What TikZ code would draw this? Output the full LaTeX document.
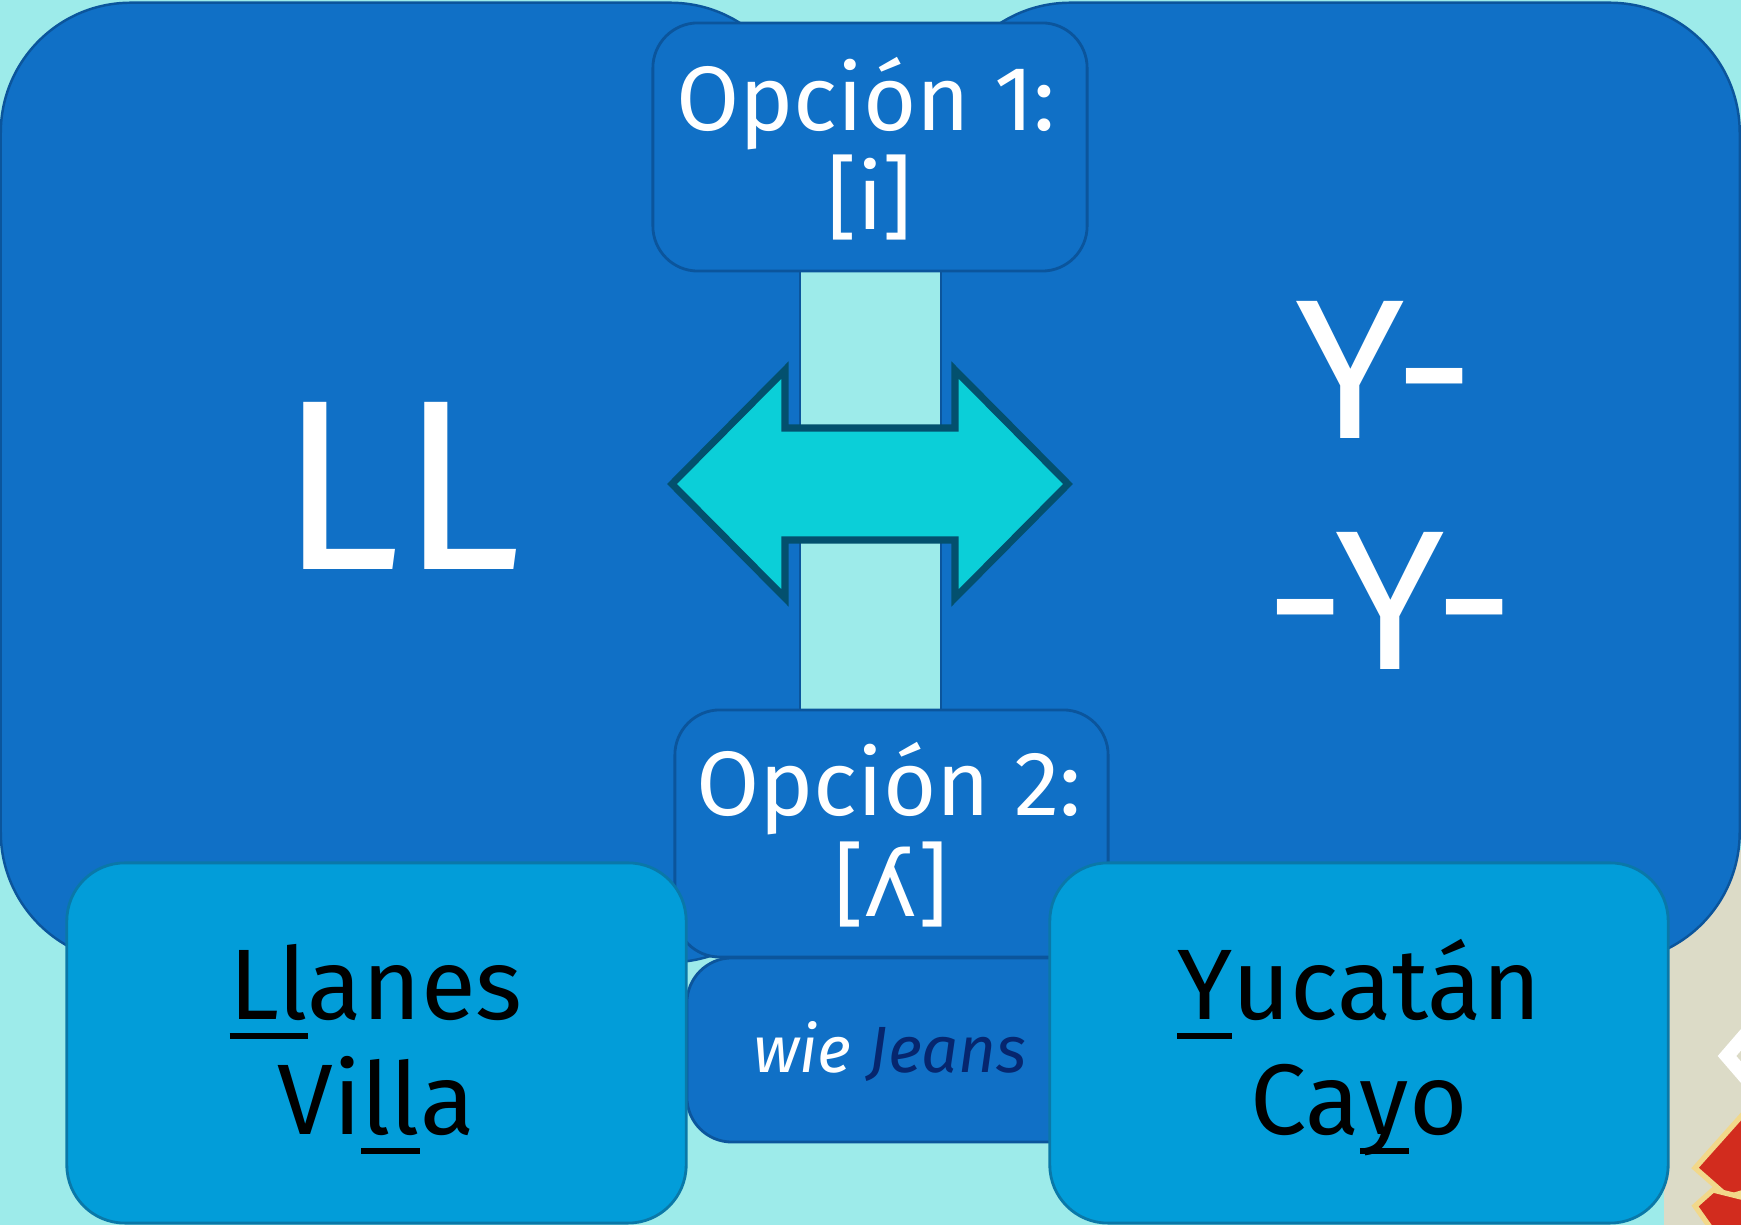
\documentclass[tikz,border=0pt]{standalone}
\usepackage{fontspec}
\setmainfont{Fira Sans}
\newfontfamily\ipafont{DejaVu Sans}
\definecolor{bgcyan}{HTML}{9DEBEA}
\definecolor{midblue}{HTML}{1070C6}
\definecolor{blueedge}{HTML}{0B559C}
\definecolor{lightblue}{HTML}{029DD9}
\definecolor{lightedge}{HTML}{0A78A8}
\definecolor{arrowfill}{HTML}{0BCFD8}
\definecolor{arrowedge}{HTML}{03506E}
\definecolor{navy}{HTML}{06266E}
\definecolor{beige}{HTML}{DCDBC7}
\definecolor{flagred}{HTML}{D22C1E}
\definecolor{flagyellow}{HTML}{F2D88A}
\newcommand\ulbar[1]{\setbox0=\hbox{#1}\rlap{\rule[-5.4pt]{\wd0}{1.7pt}}\box0}
\begin{document}
\begin{tikzpicture}[x=0.01cm,y=-0.01cm,bigbox/.style={draw=blueedge,fill=midblue,line width=0.7pt,rounded corners=1.3cm,inner sep=0pt},optbox/.style={draw=blueedge,fill=midblue,line width=0.8pt,rounded corners=0.45cm,inner sep=0pt},wordbox/.style={draw=lightedge,fill=lightblue,line width=0.8pt,rounded corners=0.58cm,inner sep=0pt},bar/.style={draw=blueedge,fill=bgcyan,line width=0.7pt},dblarrow/.style={draw=arrowedge,fill=arrowfill,line width=2pt},optxt/.style={anchor=base,inner sep=0pt,white,font=\fontsize{26}{28}\selectfont},wtxt/.style={anchor=base,inner sep=0pt,black,font=\fontsize{28.5}{32}\selectfont},ytxt/.style={anchor=base,inner sep=0pt,white,font=\fontsize{56.6}{60}\selectfont}]
\def\bw{7.99cm};
\def\bh{9.59cm};

\useasboundingbox (0,0) rectangle (1741,1225);
\fill[bgcyan] (0,0) rectangle (1741,1225);
\fill[beige] (1664,850) rectangle (1741,1225);
\draw[white,line width=4pt] (1746,1034) -- (1727,1056) -- (1746,1078);
\filldraw[flagred,draw=flagyellow,line width=1.5pt] (1695,1168) -- (1745,1112) -- (1745,1192) -- (1728,1197) -- cycle;
\filldraw[flagred,draw=flagyellow,line width=1.5pt] (1695,1206) -- (1713,1190) -- (1745,1198) -- (1745,1230) -- (1712,1230) -- cycle;

\node[bigbox,minimum width=\bw,minimum height=\bh] (Lbig) at (400.5,482.5) {};
\node[bigbox,minimum width=\bw,minimum height=\bh] (Ybig) at (1340,482.5) {};

\draw[bar] (800,271) rectangle (941,432);
\draw[bar] (800,536) rectangle (941,710);

\node[optbox,minimum width=4.34cm,minimum height=2.48cm] (op1box) at (870,147) {};
\draw[dblarrow] (672,484) -- (785,370) -- (785,428) -- (955,428) -- (955,370) -- (1068,484) -- (955,598) -- (955,540) -- (785,540) -- (785,598) -- cycle;
\node[optbox,minimum width=4.33cm,minimum height=2.47cm] (op2box) at (891.5,833.5) {};
\node[optbox,minimum width=4.08cm,minimum height=1.84cm] (wiebox) at (891,1050) {};

\node[wordbox,minimum width=6.19cm,minimum height=3.6cm] (llbox) at (376.5,1043) {};
\node[wordbox,minimum width=6.18cm,minimum height=3.6cm] (ybox) at (1359,1043) {};

\node[anchor=base,inner sep=0pt,white,font=\fontsize{69}{80}\selectfont] (LL) at (400,570) {LL};
\node[ytxt] (Y1) at (1385,439) {Y-};
\node[ytxt] (Y2) at (1390,670) {-Y-};

\node[optxt] (op1) at (866,131) {Opción 1:};
\node[optxt] (ipa1) at (870,230) {[i]};
\node[optxt] (op2) at (889,816) {Opción 2:};
\node[optxt] (ipa2) at (891,917) {[{\ipafont ʎ}]};
\node[anchor=base,inner sep=0pt,white,font=\fontsize{18.6}{20}\selectfont\itshape] (wie) at (890,1073) {wie \textcolor{navy}{Jeans}};

\node[wtxt] (ll1) at (376,1020) {\ulbar{Ll}anes};
\node[wtxt] (ll2) at (376,1135) {Vi\ulbar{ll}a};
\node[wtxt] (y1) at (1359,1020) {\ulbar{Y}ucatán};
\node[wtxt] (y2) at (1359,1135) {Ca\ulbar{y}o};
\end{tikzpicture}
\end{document}
